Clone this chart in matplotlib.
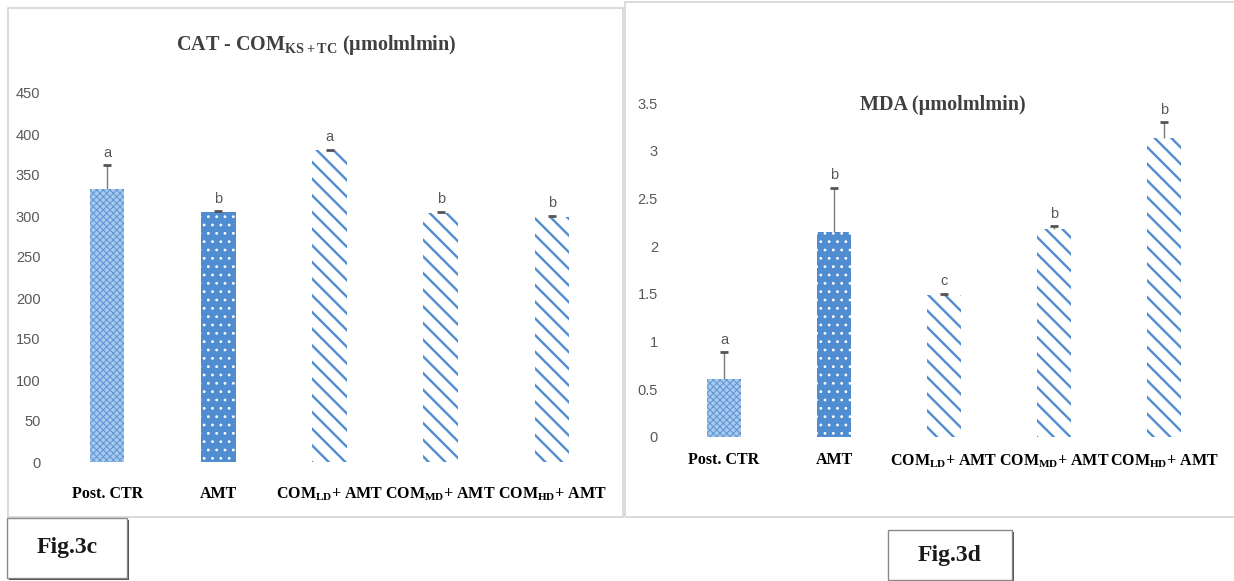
import matplotlib
matplotlib.use('Agg')
import matplotlib.pyplot as plt
import matplotlib.patches as mplpatches
import numpy as np

# data
groups = ['Post. CTR', 'AMT', 'COM$_{LD}$+ AMT', 'COM$_{MD}$+ AMT', 'COM$_{HD}$+ AMT']
cat_values = [333, 305, 380, 304, 299]
cat_errors = [29, 1, 1, 1, 1]
cat_letters = ['a', 'b', 'a', 'b', 'b']
cat_ticks = [0, 50, 100, 150, 200, 250, 300, 350, 400, 450]

mda_values = [0.61, 2.15, 1.49, 2.18, 3.13]
mda_errors = [0.28, 0.46, 0.01, 0.03, 0.17]
mda_letters = ['a', 'b', 'c', 'b', 'b']
mda_ticks = [0, 0.5, 1, 1.5, 2, 2.5, 3, 3.5]

plt.rcParams['mathtext.default'] = 'regular'

blue = '#4f8dd0'
serif = 'Liberation Serif'
sans = 'Liberation Sans'

figureWidth = 12.34
figureHeight = 5.81
W = 1234
H = 581
fig = plt.figure(figsize=(figureWidth, figureHeight), dpi=100)


def px_axes(left, top, right, bottom):
    # panel placement given in pixels of the final image
    return plt.axes([left / W, (H - bottom) / H, (right - left) / W, (bottom - top) / H])


def fig_rect(x0, y0, x1, y1, **kw):
    rect = mplpatches.Rectangle((x0 / W, (H - y1) / H), (x1 - x0) / W, (y1 - y0) / H,
                                transform=fig.transFigure, **kw)
    fig.patches.append(rect)
    return rect


# light grey frames of the two excel charts
fig_rect(8, 8, 623, 517, facecolor='none', edgecolor='#d4d4d4', linewidth=1.2)
fig_rect(625, 2, 1260, 517, facecolor='none', edgecolor='#d4d4d4', linewidth=1.2)

bar_styles = [
    dict(facecolor='#a8c8ec', edgecolor='#5a95d6', hatch='xxxxx', hlw=0.7),
    dict(facecolor=blue, edgecolor='white', hatch='..', hlw=0.8),
    dict(facecolor='white', edgecolor=blue, hatch='\\\\', hlw=1.7),
    dict(facecolor='white', edgecolor=blue, hatch='\\\\', hlw=1.7),
    dict(facecolor='white', edgecolor=blue, hatch='\\\\', hlw=1.7),
]


def draw_panel(ax, values, errors, letters, ticks, top, label_pad):
    x = np.arange(len(values))
    for i in range(len(values)):
        st = bar_styles[i]
        with plt.rc_context({'hatch.linewidth': st['hlw']}):
            bars = ax.bar(x[i], values[i], width=0.31, facecolor=st['facecolor'],
                          edgecolor=st['edgecolor'], hatch=st['hatch'], linewidth=0)
        for b in bars:
            if hasattr(b, 'set_hatch_linewidth'):
                b.set_hatch_linewidth(st['hlw'])
    tops = np.array(values) + np.array(errors)
    # plus-only error bars: stem plus a cap at the top
    ax.vlines(x, values, tops, color='#7a7a7a', linewidth=1.0)
    ax.plot(x, tops, linestyle='none', marker='_', markersize=6, markeredgewidth=2,
            color='#555555')
    for i in range(len(values)):
        ax.annotate(letters[i], (x[i], tops[i]), xytext=(0, 4),
                    textcoords='offset points', ha='center', va='bottom',
                    fontsize=10.5, color='#595959', family=sans)
    ax.set_xlim(-0.5, len(values) - 0.5)
    ax.set_ylim(0, top)
    ax.set_yticks(ticks)
    ax.set_yticklabels(['%g' % t for t in ticks], family=sans, fontsize=10.5, color='#595959')
    ax.set_xticks(x)
    ax.set_xticklabels(groups, family=serif, fontweight='bold', fontsize=11.5, color='black')
    ax.tick_params(axis='y', length=0, pad=8)
    ax.tick_params(axis='x', length=0, pad=label_pad)
    for s in ax.spines.values():
        s.set_visible(False)
    ax.set_facecolor('none')


leftPanel = px_axes(51.5, 93, 607.5, 462)
draw_panel(leftPanel, cat_values, cat_errors, cat_letters, cat_ticks, 450, 17)

rightPanel = px_axes(669, 103, 1219, 437)
draw_panel(rightPanel, mda_values, mda_errors, mda_letters, mda_ticks, 3.5, 11)

fig.text(316 / W, 1 - 45 / H, r'CAT - COM$_{KS + TC}$ (µmolmlmin)', ha='center', va='center',
         family=serif, fontweight='bold', fontsize=14.5, color='#404040')
fig.text(943 / W, 1 - 105 / H, 'MDA (µmolmlmin)', ha='center', va='center',
         family=serif, fontweight='bold', fontsize=14.5, color='#404040')

# figure tags with a drop shadow
for label, (x0, y0, x1, y1) in [('Fig.3c', (7, 518, 127, 578)), ('Fig.3d', (888, 530, 1012, 580))]:
    fig_rect(x0 + 2, y0 + 2, x1 + 2, y1 + 2, facecolor='#4a4a4a', edgecolor='none')
    fig_rect(x0, y0, x1, y1, facecolor='white', edgecolor='#8a8a8a', linewidth=1)
    fig.text((x0 + x1) / 2 / W, 1 - (y0 + y1) / 2 / H, label, ha='center', va='center',
             family=serif, fontweight='bold', fontsize=17, color='#1a1a1a')

plt.savefig('out.png', dpi=100)
